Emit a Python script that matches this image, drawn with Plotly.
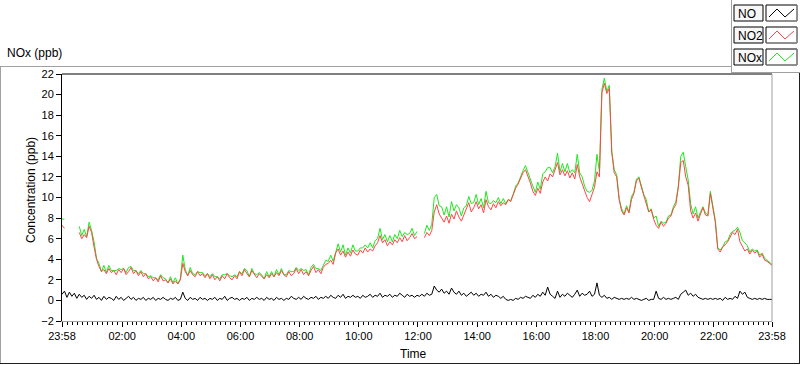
import plotly.graph_objects as go

# ---------------- data (5-minute samples, minutes since 23:58) ----------------
minutes = list(range(0, 1441, 5))

no2 = [
    7.3, 7.0, None, 7.2, None, None, None, 6.6, 6.0, 6.4, 6.1, 7.2,
    6.6, 5.2, 4.0, 3.3, 2.8, 3.0, 2.6, 3.1, 2.7, 2.9, 2.5, 3.0,
    2.7, 3.1, 2.5, 2.8, 3.2, 2.6, 2.9, 2.4, 2.8, 2.3, 2.6, 2.1,
    2.3, 1.9, 2.2, 1.8, 2.4, 1.9, 2.0, 1.7, 2.1, 1.6, 1.9, 1.6,
    2.0, 3.6, 2.8, 2.4, 2.9, 2.5, 2.3, 2.8, 2.4, 2.6, 2.2, 2.6,
    2.1, 2.5, 2.0, 2.3, 1.9, 2.4, 2.1, 2.6, 2.2, 2.0, 2.4, 2.1,
    2.8, 2.4, 3.0, 2.6, 2.3, 2.9, 2.5, 2.2, 2.6, 2.3, 2.1, 2.5,
    2.2, 2.6, 2.3, 2.7, 2.4, 2.9, 2.5, 2.3, 2.8, 2.4, 2.6, 3.1,
    2.6, 3.0, 2.5, 2.8, 2.4, 2.9, 3.3, 2.7, 3.0, 2.6, 3.2, 3.5,
    3.6, 3.9, 3.5, 4.6, 5.0, 4.4, 4.8, 4.2, 4.7, 4.3, 4.9, 4.5,
    4.4, 4.9, 4.6, 5.1, 4.7, 5.0, 4.8, 5.3, 5.6, 6.3, 5.6, 5.9,
    5.3, 5.7, 5.4, 5.9, 5.6, 6.1, 5.7, 6.3, 5.8, 6.1, 6.5, 6.0,
    6.2, None, None, 6.1, 6.6, 6.3, 6.8, 8.6, 9.3, 8.4, 8.0, 7.6,
    8.2, 7.5, 8.4, 7.9, 8.7, 8.1, 7.7, 8.3, 8.8, 9.5, 8.6, 9.0,
    9.6, 8.9, 9.3, 8.5, 9.8, 9.1, 8.8, 9.4, 9.0, 9.6, 9.2, 9.5,
    9.3, 9.8, 9.6, 10.3, 10.9, 11.3, 11.8, 12.4, 12.7, 12.1, 11.4, 10.6,
    10.2, 10.9, 10.4, 11.5, 12.0, 11.6, 12.3, 12.0, 12.8, 13.4, 12.2, 12.7,
    12.1, 12.6, 11.9, 12.4, 11.8, 13.2, 12.0, 11.3, 10.6, 10.0, 9.6, 10.3,
    11.0, 12.5, 12.0, 20.2, 21.1, 20.1, 20.6, 14.4, 12.4, 12.0, 9.8, 8.7,
    8.3, 9.0, 8.5, 9.8, 10.4, 11.6, 11.9, 11.0, 10.2, 9.6, 8.6, 8.8,
    7.9, 7.3, 7.0, 7.6, 7.2, 7.5, 8.0, 8.2, 8.9, 9.3, 11.0, 13.4,
    13.6, 12.0, 11.2, 8.7, 8.0, 8.5, 7.7, 8.4, 9.0, 8.3, 8.2, 10.4,
    9.0, 7.6, 5.0, 4.7, 5.2, 5.4, 5.7, 6.2, 6.6, 6.4, 6.9, 5.7,
    5.2, 4.8, 5.0, 4.5, 4.9, 4.6, 4.8, 4.2, 4.5, 3.9, 3.8, 3.6,
    3.4,
]

no = [
    0.6, 0.9, 0.3, 0.8, 0.4, 0.7, 0.2, 0.6, 0.3, 0.5, 0.1, 0.4,
    0.2, 0.5, 0.1, 0.3, 0.0, 0.4, 0.1, 0.3, 0.2, 0.0, 0.4, 0.1,
    0.3, 0.0, 0.2, 0.4, 0.1, 0.3, 0.0, 0.2, 0.1, 0.3, 0.0, 0.2,
    0.1, 0.3, 0.0, 0.2, 0.1, 0.3, 0.1, 0.0, 0.2, 0.1, 0.3, 0.0,
    0.1, 0.8, 0.2, 0.0, 0.3, 0.1, 0.2, 0.0, 0.3, 0.1, 0.2, 0.0,
    0.2, 0.1, 0.3, 0.0, 0.2, 0.1, 0.4, 0.0, 0.2, 0.3, 0.1, 0.2,
    0.0, 0.2, 0.1, 0.3, 0.0, 0.2, 0.1, 0.3, 0.1, 0.2, 0.0, 0.3,
    0.1, 0.2, 0.0, 0.3, 0.1, 0.2, 0.0, 0.2, 0.1, 0.4, 0.2, 0.1,
    0.3, 0.1, 0.4, 0.2, 0.1, 0.3, 0.2, 0.4, 0.1, 0.3, 0.2, 0.4,
    0.2, 0.5, 0.3, 0.2, 0.5, 0.3, 0.6, 0.2, 0.4, 0.3, 0.5, 0.3,
    0.4, 0.2, 0.5, 0.3, 0.4, 0.6, 0.3, 0.5, 0.4, 0.7, 0.3, 0.5,
    0.4, 0.6, 0.3, 0.5, 0.4, 0.7, 0.5, 0.3, 0.6, 0.4, 0.5, 0.3,
    0.5, 0.4, 0.6, 0.4, 0.7, 0.5, 0.6, 1.4, 1.0, 0.8, 1.1, 0.7,
    0.9, 0.6, 1.2, 0.8, 0.6, 0.9, 0.5, 0.7, 0.4, 0.6, 0.8, 0.5,
    0.7, 0.4, 0.6, 0.5, 0.8, 0.4, 0.6, 0.3, 0.5, 0.4, 0.2, 0.4,
    0.1, 0.0, 0.1, 0.0, 0.2, 0.1, 0.3, 0.2, 0.4, 0.3, 0.2, 0.5,
    0.3, 0.6, 0.4, 0.8, 0.5, 1.3, 0.6, 0.4, 0.2, 0.9, 0.3, 0.6,
    0.4, 0.7, 0.5, 0.3, 0.6, 1.0, 0.4, 0.7, 0.5, 0.6, 0.9, 0.4,
    0.6, 1.7, 0.5, 0.3, 0.5, 0.2, 0.3, 0.1, 0.3, 0.2, 0.1, 0.2,
    0.1, 0.2, 0.1, 0.3, 0.1, 0.2, 0.1, 0.0, 0.1, 0.2, 0.0, 0.1,
    0.1, 0.9, 0.2, 0.1, 0.3, 0.1, 0.2, 0.1, 0.2, 0.3, 0.1, 0.6,
    0.8, 1.0, 0.5, 0.7, 0.4, 0.6, 0.3, 0.2, 0.1, 0.2, 0.1, 0.2,
    0.1, 0.2, 0.1, 0.2, 0.0, 0.3, 0.1, 0.2, 0.1, 0.4, 0.2, 0.9,
    0.6, 0.8, 0.3, 0.2, 0.1, 0.2, 0.1, 0.2, 0.1, 0.2, 0.1, 0.1,
    0.1,
]

nox = [
    7.9, 7.9, None, 8.0, None, None, None, 7.2, 6.3, 6.9, 6.2, 7.6,
    6.8, 5.7, 4.1, 3.6, 2.8, 3.4, 2.7, 3.4, 2.9, 2.9, 2.9, 3.1,
    3.0, 3.1, 2.7, 3.2, 3.3, 2.9, 2.9, 2.6, 2.9, 2.6, 2.6, 2.3,
    2.4, 2.2, 2.2, 2.0, 2.5, 2.2, 2.1, 1.7, 2.3, 1.7, 2.2, 1.6,
    2.1, 4.4, 3.0, 2.4, 3.2, 2.6, 2.5, 2.8, 2.7, 2.7, 2.4, 2.6,
    2.3, 2.6, 2.3, 2.3, 2.1, 2.5, 2.5, 2.6, 2.4, 2.3, 2.5, 2.3,
    2.8, 2.6, 3.1, 2.9, 2.3, 3.1, 2.6, 2.5, 2.7, 2.5, 2.1, 2.8,
    2.3, 2.8, 2.3, 3.0, 2.5, 3.1, 2.5, 2.5, 2.9, 2.8, 2.8, 3.2,
    2.9, 3.1, 2.9, 3.0, 2.5, 3.2, 3.5, 3.1, 3.1, 2.9, 3.4, 3.9,
    3.8, 4.4, 3.8, 4.8, 5.5, 4.7, 5.4, 4.4, 5.1, 4.6, 5.4, 4.8,
    4.8, 5.1, 5.1, 5.4, 5.1, 5.6, 5.1, 5.8, 6.0, 7.0, 5.9, 6.4,
    5.7, 6.3, 5.7, 6.4, 6.0, 6.8, 6.2, 6.6, 6.4, 6.5, 7.0, 6.3,
    6.7, None, None, 6.5, 7.3, 6.8, 7.4, 10.0, 10.3, 9.2, 9.1, 8.3,
    9.1, 8.1, 9.6, 8.7, 9.3, 9.0, 8.2, 9.0, 9.2, 10.1, 9.4, 9.5,
    10.3, 9.3, 9.9, 9.0, 10.6, 9.5, 9.4, 9.7, 9.5, 10.0, 9.4, 9.9,
    9.4, 9.8, 9.7, 10.3, 11.1, 11.4, 12.1, 12.6, 13.1, 12.4, 11.6, 11.1,
    10.5, 11.5, 10.8, 12.3, 12.5, 12.9, 12.9, 12.4, 13.0, 14.3, 12.5, 13.3,
    12.5, 13.3, 12.4, 12.7, 12.4, 14.2, 12.4, 12.0, 11.1, 10.6, 10.5, 10.7,
    11.6, 14.2, 12.5, 20.5, 21.6, 20.3, 20.9, 14.5, 12.7, 12.2, 9.9, 8.9,
    8.4, 9.2, 8.6, 10.1, 10.5, 11.8, 12.0, 11.0, 10.3, 9.8, 8.6, 8.9,
    8.0, 8.2, 7.2, 7.7, 7.5, 7.6, 8.2, 8.3, 9.1, 9.6, 11.1, 14.0,
    14.4, 13.0, 11.7, 9.4, 8.4, 9.1, 8.0, 8.6, 9.1, 8.5, 8.3, 10.6,
    9.1, 7.8, 5.1, 4.9, 5.2, 5.7, 5.8, 6.4, 6.7, 6.8, 7.1, 6.6,
    5.8, 5.6, 5.3, 4.7, 5.0, 4.8, 4.9, 4.4, 4.6, 4.1, 3.9, 3.7,
    3.5,
]

tick_labels = ["23:58", "02:00", "04:00", "06:00", "08:00", "10:00", "12:00",
               "14:00", "16:00", "18:00", "20:00", "22:00", "23:58"]
series_names = ["NO", "NO2", "NOx"]
series_colors = ["#000000", "#ff4646", "#1ee81e"]

# ---------------- axis helpers ----------------
START = 23 * 60 + 58


def label_to_minutes(lbl, last):
    h, m = lbl.split(":")
    v = (int(h) * 60 + int(m) - START) % 1440
    return 1440 if (last and v == 0) else v


tick_vals = [label_to_minutes(l, i == len(tick_labels) - 1) for i, l in enumerate(tick_labels)]
minor_vals = [v for v in range(2, 1440, 10) if v not in tick_vals]

# pixel frame of the plot area
L, T, R, B = 62, 74, 772, 321
W, H = R - L, B - T
FIG_W, FIG_H = 800, 365


def fx(px):
    return (px - L) / W


def fy(py):
    return (B - py) / H


FONT = "Liberation Sans"

fig = go.Figure()
for name, ys in [("NOx", nox), ("NO2", no2), ("NO", no)]:
    col = series_colors[series_names.index(name)]
    fig.add_trace(go.Scatter(x=minutes, y=ys, mode="lines", name=name,
                             line=dict(color=col, width=1, shape="linear"),
                             connectgaps=False, showlegend=False))

shapes = []


def hline(x0, x1, y, color, w=1):
    shapes.append(dict(type="line", xref="paper", yref="paper",
                       x0=fx(x0), x1=fx(x1), y0=fy(y), y1=fy(y),
                       line=dict(color=color, width=w)))


def vline(x, y0, y1, color, w=1):
    shapes.append(dict(type="line", xref="paper", yref="paper",
                       x0=fx(x), x1=fx(x), y0=fy(y0), y1=fy(y1),
                       line=dict(color=color, width=w)))


GREY = "#a0a0a0"
# outer frame
hline(0, 731, 66.5, GREY)
vline(0.5, 66, 364, GREY)
hline(0, 800, 363.5, "#202020")
vline(799.5, 72, 364, "#202020")
vline(731.5, 0, 72, GREY)
hline(731, 800, 72.5, GREY)
# plot frame (top black, right grey)
hline(L, R, T, "#000000")
vline(R, T, B, GREY)

annotations = []
# legend
tops = [5, 27, 49]
for name, col, top in zip(series_names, series_colors, tops):
    bot = top + 16
    shapes.append(dict(type="rect", xref="paper", yref="paper",
                       x0=fx(734), x1=fx(763), y0=fy(bot), y1=fy(top),
                       line=dict(color="#000000", width=1), fillcolor="#f7f7f7"))
    shapes.append(dict(type="rect", xref="paper", yref="paper",
                       x0=fx(766), x1=fx(797), y0=fy(bot), y1=fy(top),
                       line=dict(color="#000000", width=1), fillcolor="#ffffff"))
    hline(766, 797, bot, GREY)
    vline(797, top, bot, GREY)
    pts = [(769, top + 12), (777, top + 4), (785, top + 12), (794, top + 4)]
    path = "M " + " L ".join(f"{fx(a):.5f},{fy(b):.5f}" for a, b in pts)
    shapes.append(dict(type="path", xref="paper", yref="paper", path=path,
                       line=dict(color=col, width=1)))
    annotations.append(dict(text=name, xref="paper", yref="paper",
                            x=fx(736), y=fy(top + 8.5), xanchor="left", yanchor="middle",
                            showarrow=False, font=dict(family=FONT, size=12, color="#000000")))

annotations.append(dict(text="NOx (ppb)", xref="paper", yref="paper",
                        x=fx(5), y=fy(53), xanchor="left", yanchor="middle",
                        showarrow=False, font=dict(family=FONT, size=12, color="#000000")))
annotations.append(dict(text="Concentration (ppb)", xref="paper", yref="paper",
                        x=fx(31), y=fy(190), xanchor="center", yanchor="middle",
                        textangle=-90, showarrow=False,
                        font=dict(family=FONT, size=12, color="#000000")))
annotations.append(dict(text="Time", xref="paper", yref="paper",
                        x=fx(413), y=fy(354), xanchor="center", yanchor="middle",
                        showarrow=False, font=dict(family=FONT, size=12, color="#000000")))

fig.update_layout(
    width=FIG_W, height=FIG_H,
    margin=dict(l=L, r=FIG_W - R, t=T, b=FIG_H - B, pad=0),
    paper_bgcolor="#ffffff", plot_bgcolor="#ffffff",
    font=dict(family=FONT, size=11, color="#000000"),
    shapes=shapes, annotations=annotations,
    showlegend=False,
    xaxis=dict(range=[0, 1440], tickmode="array", tickvals=tick_vals, ticktext=tick_labels,
               ticks="outside", ticklen=5, tickcolor="#000000", tickwidth=1,
               showline=True, linecolor=GREY, linewidth=1,
               showgrid=False, zeroline=False,
               tickfont=dict(family=FONT, size=11, color="#000000"),
               minor=dict(tickmode="array", tickvals=minor_vals, ticks="outside",
                          ticklen=3, tickcolor="#000000", tickwidth=1, showgrid=False)),
    yaxis=dict(range=[-2, 22], tick0=-2, dtick=2,
               ticks="outside", ticklen=5, tickcolor="#000000", tickwidth=1,
               showline=True, linecolor="#000000", linewidth=1,
               showgrid=False, zeroline=False,
               tickfont=dict(family=FONT, size=11, color="#000000")),
)

fig.write_html("out.html", config={"displayModeBar": False},
               post_script="document.body.style.margin='0';document.body.style.overflow='hidden';")
